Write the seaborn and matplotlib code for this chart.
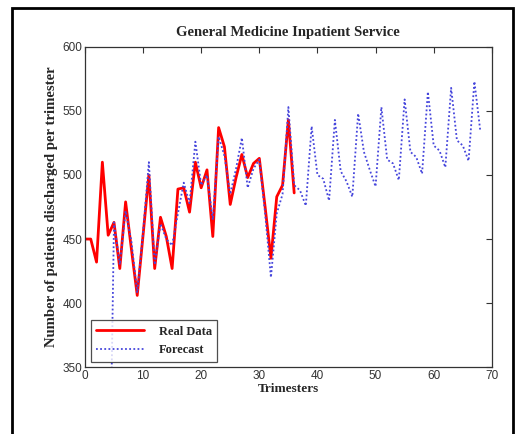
import pandas as pd
import matplotlib
matplotlib.use("Agg")
import matplotlib.pyplot as plt
from matplotlib.patches import Rectangle
import seaborn as sns

# values
real_trimesters = list(range(0, 37))
real_data = [450, 450, 432, 510, 453, 463, 427, 479, 442, 406,
             453, 500, 427, 467, 452, 427, 489, 490, 471, 510,
             490, 504, 452, 537, 522, 477, 498, 516, 498, 509,
             513, 475, 435, 483, 492, 543, 486]

forecast_trimesters = list(range(4, 69))
forecast = [170, 463, 430, 472, 448, 408, 455, 510, 430, 462,
            450, 445, 470, 494, 478, 526, 492, 500, 465, 530,
            515, 485, 505, 529, 490, 505, 512, 470, 420, 470,
            485, 553, 492, 488, 476, 538, 500, 497, 480, 543,
            503, 495, 483, 548, 518, 504, 491, 553, 512, 509,
            496, 559, 518, 514, 501, 565, 523, 519, 506, 568,
            527, 523, 511, 573, 535]

real_df = pd.DataFrame({"t": real_trimesters, "v": real_data})
fc_df = pd.DataFrame({"t": forecast_trimesters, "v": forecast})

sns.set_style("white")
plt.rcParams["font.family"] = ["Liberation Sans", "DejaVu Sans"]

fig = plt.figure(figsize=(5.21, 4.34), dpi=100)
ax = fig.add_axes([0.163, 0.154, 0.781, 0.738])

sns.lineplot(data=real_df, x="t", y="v", ax=ax, color="#ff0000", lw=2.0, label="Real Data")
sns.lineplot(data=fc_df, x="t", y="v", ax=ax, color="#4646dc", lw=1.3, linestyle=(0, (1, 1.3)),
             label="Forecast")

ax.set_xlim(0, 70)
ax.set_ylim(350, 600)
ax.set_xticks(range(0, 71, 10))
ax.set_yticks(range(350, 601, 50))
ax.tick_params(direction="in", top=True, right=True, length=4, width=0.8,
               labelsize=8.5, colors="#333333", pad=2)
for sp in ax.spines.values():
    sp.set_color("#333333")
    sp.set_linewidth(0.9)

serif = ["Liberation Serif", "DejaVu Serif"]
ax.set_title("General Medicine Inpatient Service", family=serif, fontweight="bold",
             fontsize=10.6, pad=8)
ax.set_xlabel("Trimesters", family=serif, fontweight="bold", fontsize=9.6, labelpad=1)
ax.set_ylabel("Number of patients discharged per trimester", family=serif,
              fontweight="bold", fontsize=10.6, labelpad=3)

leg = ax.legend(loc="lower left", prop={"family": serif, "weight": "bold", "size": 9.0},
                frameon=True, fancybox=False, edgecolor="#222222", handlelength=3.8,
                borderaxespad=0.45, borderpad=0.45, labelspacing=0.5, handletextpad=1.2)
leg.get_frame().set_linewidth(0.9)

# outer frame around the figure
fig.add_artist(Rectangle((12 / 521, -0.1), (513 - 12) / 521, 1 - 8 / 434 + 0.1,
                         transform=fig.transFigure, fill=False, lw=2, ec="black"))

fig.savefig("out.png", dpi=100, facecolor="white")
